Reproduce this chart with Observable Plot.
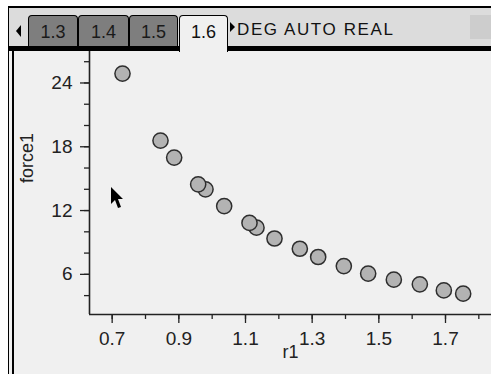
<!DOCTYPE html>
<html>
<head>
<meta charset="utf-8">
<script src="https://cdn.jsdelivr.net/npm/d3@7"></script>
<script src="https://cdn.jsdelivr.net/npm/@observablehq/plot@0.6"></script>
<style>
  html, body { margin: 0; padding: 0; background: #fff; }
  #page { position: relative; width: 491px; height: 374px; overflow: hidden; background: #fff; font-family: "Liberation Sans", Arial, sans-serif; }
  #panel { position: absolute; left: 8px; top: 6px; width: 483px; height: 368px; background: #f0f0f0; border-left: 1px solid #000; border-top: 2px solid #000; box-sizing: border-box; }
  #inner { position: absolute; left: 12px; top: 51px; width: 1.5px; height: 323px; background: #000; }
  #header { position: absolute; left: 9px; top: 8px; width: 482px; height: 38px; background: #dcdcdc; }
  #band { position: absolute; left: 9px; top: 46px; width: 482px; height: 5px; background: #000; }
  #sq { position: absolute; left: 470px; top: 15px; width: 21px; height: 24px; background: #cdcdcd; }
  .tab { position: absolute; top: 15px; height: 31px; box-sizing: border-box; border: 1px solid #000; border-bottom: none; border-radius: 4px 4px 0 0; background: #7e7e7e; color: #1a1a1a; font-size: 18px; text-align: center; line-height: 32px; }
  .tab.active { background: #f0f0f0; height: 37px; color: #111; }
  #larr { position: absolute; left: 16px; top: 25px; width: 0; height: 0; border-top: 6px solid transparent; border-bottom: 6px solid transparent; border-right: 5px solid #000; }
  #rarr { position: absolute; left: 230px; top: 22px; width: 0; height: 0; border-top: 5px solid transparent; border-bottom: 5px solid transparent; border-left: 5px solid #000; }
  #mode { position: absolute; left: 237px; top: 20px; font-size: 17px; letter-spacing: 1.6px; color: #111; line-height: 20px; }
  #chart { position: absolute; left: 0; top: 0; }
  #cursor { position: absolute; left: 110px; top: 187px; }
</style>
</head>
<body>
<div id="page">
  <div id="panel"></div>
  <div id="inner"></div>
  <div id="chart"></div>
  <div id="header"></div>
  <div id="band"></div>
  <div id="sq"></div>
  <div id="larr"></div>
  <div class="tab" style="left:28px;width:50px;">1.3</div>
  <div class="tab" style="left:78px;width:51px;">1.4</div>
  <div class="tab" style="left:129px;width:49px;">1.5</div>
  <div class="tab active" style="left:179px;width:49px;">1.6</div>
  <div id="rarr"></div>
  <div id="mode">DEG AUTO REAL</div>
  <svg id="cursor" width="14" height="24" viewBox="0 0 14 24"><polygon points="1,0 1,17 5,13 8,21 11,20 8,12 13,12" fill="#000"/></svg>
</div>
<script>
const r1 = [0.731, 0.845, 0.886, 0.958, 0.980, 1.036, 1.112, 1.133, 1.187, 1.263, 1.318, 1.395, 1.468, 1.545, 1.623, 1.695, 1.753];
const force1 = [24.88, 18.58, 16.98, 14.47, 14.0, 12.42, 10.84, 10.39, 9.37, 8.41, 7.63, 6.78, 6.07, 5.50, 5.06, 4.49, 4.18];
const xMinorTicks = [0.7, 0.8, 0.9, 1.0, 1.1, 1.2, 1.3, 1.4, 1.5, 1.6, 1.7, 1.8];
const xTickLabels = [0.7, 0.9, 1.1, 1.3, 1.5, 1.7];
const yMinorTicks = [4, 6, 8, 10, 12, 14, 16, 18, 20, 22, 24, 26];
const yTickLabels = [6, 12, 18, 24];
const xLabel = "r1";
const yLabel = "force1";

const data = r1.map((x, i) => ({r1: x, force1: force1[i]}));
const xDomain = [0.632, 1.838];
const yDomain = [2.224, 26.96];

const chart = Plot.plot({
  width: 491,
  height: 374,
  marginLeft: 89,
  marginTop: 51,
  marginBottom: 60,
  marginRight: 0,
  style: {background: "transparent", color: "#222", fontFamily: "'Liberation Sans', Arial, sans-serif"},
  x: {domain: xDomain},
  y: {domain: yDomain},
  marks: [
    Plot.axisX(xMinorTicks, {tickSize: 5, text: null, label: null, strokeWidth: 1.3}),
    Plot.axisX(xTickLabels, {tickSize: 9, tickPadding: 8, fontSize: 19, label: null, strokeWidth: 1.3, tickFormat: d => d.toFixed(1), fill: "#222"}),
    Plot.axisY(yMinorTicks, {tickSize: 5, text: null, label: null, strokeWidth: 1.3}),
    Plot.axisY(yTickLabels, {tickSize: 9, tickPadding: 8, fontSize: 19, label: null, strokeWidth: 1.3, fill: "#222"}),
    Plot.ruleX([xDomain[0]], {stroke: "#222", strokeWidth: 1.6}),
    Plot.ruleY([yDomain[0]], {stroke: "#222", strokeWidth: 1.6}),
    Plot.text([xLabel], {frameAnchor: "bottom", dy: 43, fontSize: 18, fill: "#222"}),
    Plot.text([yLabel], {frameAnchor: "left", dx: -62, rotate: -90, fontSize: 18, fill: "#222"}),
    Plot.dot(data, {x: "r1", y: "force1", r: 7.6, fill: "#b3b3b3", stroke: "#2e2e2e", strokeWidth: 1.5, reverse: true})
  ]
});
document.getElementById("chart").appendChild(chart);
</script>
</body>
</html>
